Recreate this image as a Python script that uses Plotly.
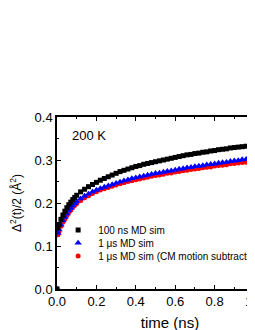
import plotly.graph_objects as go

# time (ns)
t = [0.0, 0.005, 0.01, 0.02, 0.03, 0.04, 0.05, 0.06, 0.07, 0.08, 0.09, 0.10,
     0.12, 0.14, 0.16, 0.18, 0.20, 0.22, 0.24, 0.26, 0.28, 0.30, 0.32, 0.34,
     0.36, 0.38, 0.40, 0.42, 0.44, 0.46, 0.48, 0.50, 0.52, 0.54, 0.56, 0.58,
     0.60, 0.62, 0.64, 0.66, 0.68, 0.70, 0.72, 0.74, 0.76, 0.78, 0.80, 0.82,
     0.84, 0.86, 0.88, 0.90, 0.92, 0.94, 0.96, 0.98, 1.00, 1.02]

md_100ns = [0.0, 0.142, 0.150, 0.162, 0.172, 0.181, 0.189, 0.196, 0.202, 0.208, 0.213, 0.218,
            0.226, 0.232, 0.238, 0.243, 0.248, 0.253, 0.257, 0.261, 0.265, 0.269, 0.273, 0.276,
            0.279, 0.282, 0.285, 0.287, 0.290, 0.292, 0.294, 0.296, 0.298, 0.300, 0.302, 0.304,
            0.306, 0.308, 0.310, 0.312, 0.313, 0.315, 0.316, 0.318, 0.319, 0.321, 0.322, 0.324,
            0.325, 0.326, 0.328, 0.329, 0.330, 0.331, 0.332, 0.334, 0.335, 0.336]

md_1us = [0.0, 0.130, 0.138, 0.149, 0.159, 0.167, 0.175, 0.182, 0.188, 0.194, 0.199, 0.203,
          0.210, 0.216, 0.221, 0.226, 0.230, 0.234, 0.237, 0.240, 0.243, 0.246, 0.249, 0.252,
          0.254, 0.257, 0.259, 0.261, 0.263, 0.265, 0.267, 0.269, 0.270, 0.272, 0.274, 0.275,
          0.277, 0.279, 0.280, 0.282, 0.283, 0.285, 0.286, 0.287, 0.289, 0.290, 0.291, 0.293,
          0.294, 0.295, 0.297, 0.298, 0.299, 0.301, 0.302, 0.303, 0.304, 0.305]

md_1us_cm = [0.0, 0.126, 0.134, 0.146, 0.155, 0.163, 0.171, 0.178, 0.184, 0.190, 0.195, 0.199,
             0.206, 0.212, 0.217, 0.222, 0.226, 0.230, 0.233, 0.236, 0.239, 0.242, 0.245, 0.247,
             0.250, 0.252, 0.254, 0.256, 0.258, 0.260, 0.262, 0.264, 0.265, 0.267, 0.269, 0.270,
             0.272, 0.273, 0.275, 0.276, 0.278, 0.279, 0.280, 0.282, 0.283, 0.284, 0.286, 0.287,
             0.288, 0.289, 0.291, 0.292, 0.293, 0.294, 0.295, 0.297, 0.298, 0.299]

names = ["100 ns MD sim", "1 μs MD sim", "1 μs MD sim (CM motion subtracted)"]

FONT = "Arial, Liberation Sans, sans-serif"

fig = go.Figure()
# draw red first, then blue, then black; each entry in its own legend box
fig.add_trace(go.Scatter(x=t, y=md_1us_cm, mode="markers", name=names[2], legend="legend3",
                         marker=dict(symbol="circle", size=5, color="#ff0000")))
fig.add_trace(go.Scatter(x=t, y=md_1us, mode="markers", name=names[1], legend="legend2",
                         marker=dict(symbol="triangle-up", size=6.5, color="#0000ff")))
fig.add_trace(go.Scatter(x=t, y=md_100ns, mode="markers", name=names[0], legend="legend",
                         marker=dict(symbol="square", size=5, color="#000000")))

axis_common = dict(
    showline=True, linecolor="black", linewidth=1.5,
    ticks="inside", ticklen=4, tickwidth=1, tickcolor="black",
    showgrid=False, zeroline=False, automargin=False,
    tickfont=dict(family=FONT, size=13, color="black"),
)

fig.update_xaxes(range=[0, 1.147], dtick=0.2, tick0=0, tickformat=".1f",
                 mirror="ticks",
                 minor=dict(dtick=0.1, ticks="inside", ticklen=2, tickcolor="black"),
                 title=dict(text="time (ns)", font=dict(family=FONT, size=15, color="black"),
                            standoff=9),
                 **axis_common)
fig.update_yaxes(range=[0, 0.4], dtick=0.1, tick0=0, tickformat=".1f",
                 mirror="ticks",
                 minor=dict(dtick=0.05, ticks="inside", ticklen=2, tickcolor="black"),
                 title=dict(text="Δ<sup>2</sup>(t)/2 (Å<sup>2</sup>)",
                            font=dict(family=FONT, size=12, color="black"), standoff=12),
                 **axis_common)

fig.add_annotation(x=0.066, y=0.358, xref="x", yref="y", text="200 K", showarrow=False,
                   xanchor="left", yanchor="middle",
                   font=dict(family=FONT, size=13, color="black"))
fig.add_annotation(x=0.975, y=0.045, xref="x", yref="y", text="(a)", showarrow=False,
                   xanchor="left", yanchor="middle",
                   font=dict(family=FONT, size=14, color="black"))

leg_common = dict(x=0.005, xanchor="left", yanchor="top", bgcolor="rgba(0,0,0,0)",
                  font=dict(family=FONT, size=10, color="black"), itemsizing="trace")

fig.update_layout(
    width=275, height=330,
    margin=dict(l=49, r=0, t=109, b=49, autoexpand=False),
    paper_bgcolor="white", plot_bgcolor="white",
    showlegend=True,
    legend=dict(y=0.427, **leg_common),
    legend2=dict(y=0.352, **leg_common),
    legend3=dict(y=0.276, **leg_common),
    font=dict(family=FONT, color="black"),
)

fig.write_html("out.html")
